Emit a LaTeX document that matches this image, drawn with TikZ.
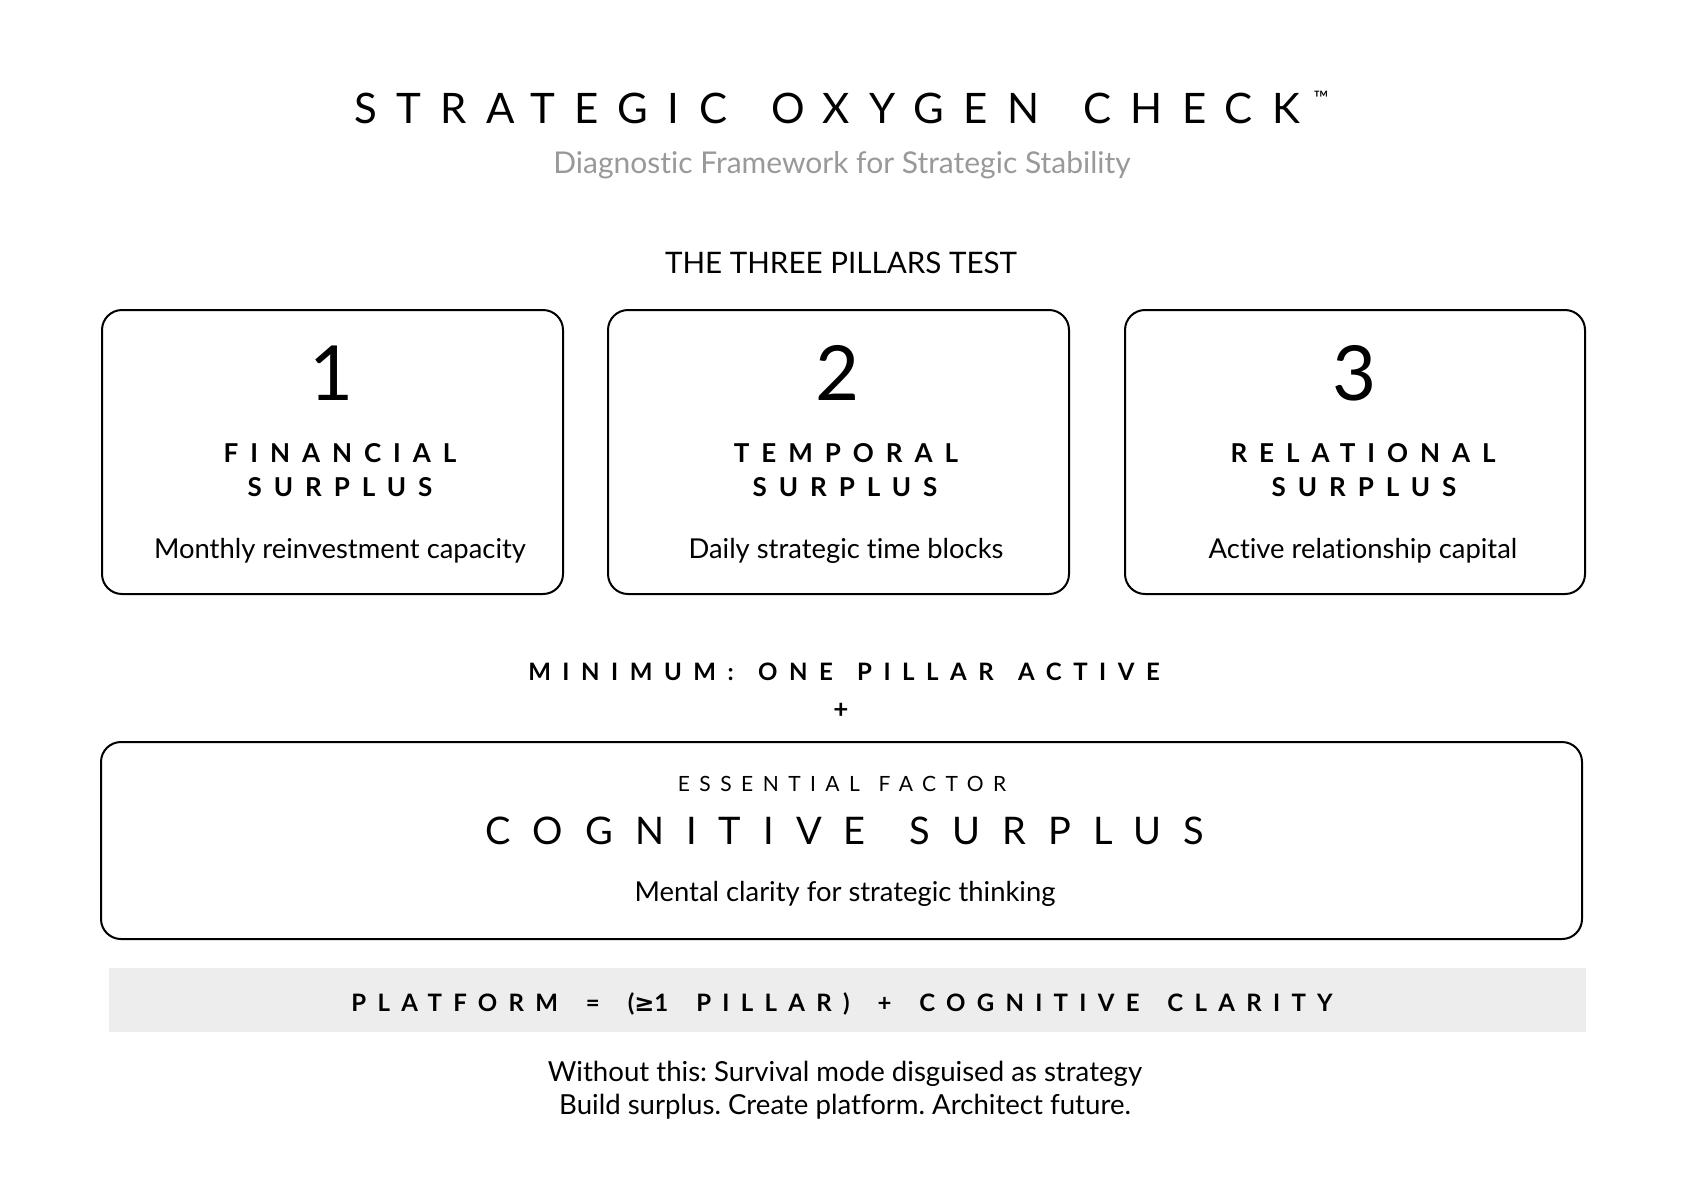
\documentclass[tikz,border=0pt]{standalone}
\usepackage{fontspec}
\setmainfont{Lato}[Ligatures=NoCommon]
\newfontfamily\symf{DejaVu Sans}
\definecolor{subgray}{HTML}{999999}
\definecolor{bandgray}{HTML}{EDEDED}
\newcommand\trk[2]{\addfontfeatures{LetterSpace=#1}#2}
\newcommand\wg[1]{\hspace*{#1}}
\frenchspacing
\begin{document}
\begin{tikzpicture}[x=0.5pt,y=-0.5pt,
  lbl/.style={inner sep=0pt,outer sep=0pt,anchor=center,text=black},
  basel/.style={inner sep=0pt,outer sep=0pt,anchor=base,text=black},
  pillar/.style={draw=black,line width=1pt,rounded corners=10pt},
  band/.style={fill=bandgray,draw=none},
  fsz/.style={font=\fontsize{#1}{#1}\selectfont},
  bsz/.style={font=\bfseries\fontsize{#1}{#1}\selectfont}]
\useasboundingbox[fill=white] (0,0) rectangle (1684,1190);

% title
\node[lbl,fsz=21] (title) at (827,108) {\trk{46}{STRATEGIC \wg{7pt}OXYGEN \wg{7pt}CHECK}};
\node[lbl,fsz=10] (tm) at (1321,98) {™};
\node[basel,fsz=15,text=subgray] (sub) at (842,173) {Diagnostic Framework for Strategic Stability};
\node[lbl,fsz=14.8] (three) at (841,263) {THE THREE PILLARS TEST};

% pillar boxes
\draw[pillar] (102,310) rectangle (563,594);
\draw[pillar] (608,310) rectangle (1069,594);
\draw[pillar] (1125,310) rectangle (1585,594);
\node[lbl,fsz=38] (n1) at (332,373) {1};
\node[lbl,fsz=38] (n2) at (838,373) {2};
\node[lbl,fsz=38] (n3) at (1355,373) {3};
\node[lbl,bsz=13] (p1a) at (340,453) {\trk{46}{FINANCIAL}};
\node[lbl,bsz=13] (p1b) at (340,487) {\trk{46}{SURPLUS}};
\node[lbl,bsz=13] (p2a) at (846,453) {\trk{46}{TEMPORAL}};
\node[lbl,bsz=13] (p2b) at (845,487) {\trk{46}{SURPLUS}};
\node[lbl,bsz=13] (p3a) at (1363,453) {\trk{46}{RELATIONAL}};
\node[lbl,bsz=13] (p3b) at (1364,487) {\trk{46}{SURPLUS}};
\node[basel,fsz=13.7] (d1) at (340,558) {Monthly reinvestment capacity};
\node[basel,fsz=13.7] (d2) at (846,558) {Daily strategic time blocks};
\node[basel,fsz=13.7] (d3) at (1363,558) {Active relationship capital};

% minimum
\node[lbl,bsz=12] (min) at (844,672) {\trk{48}{MINIMUM: \wg{3.5pt}ONE \wg{3.5pt}PILLAR \wg{3.5pt}ACTIVE}};
\node[lbl,bsz=13] (plus) at (841,711) {+};

% cognitive box
\draw[pillar] (101,742) rectangle (1582,939);
\node[lbl,fsz=10.5] (ess) at (842,784) {\trk{45}{ESSENTIAL \wg{2pt}FACTOR}};
\node[lbl,fsz=19] (cog) at (845,831) {\trk{58}{COGNITIVE \wg{6pt}SURPLUS}};
\node[basel,fsz=13.7] (ment) at (845,901) {Mental clarity for strategic thinking};

% platform band
\fill[band] (109,968) rectangle (1586,1032);
\node[lbl,bsz=12] (plat) at (842,1004) {\trk{47}{PLATFORM \wg{5.4pt}= \wg{5.4pt}({\symf\addfontfeatures{LetterSpace=47}≥}1 \wg{5.4pt}PILLAR) \wg{5.4pt}+ \wg{5.4pt}COGNITIVE \wg{5.4pt}CLARITY}};

% footer
\node[basel,fsz=13.8] (f1) at (845,1081) {Without this: Survival mode disguised as strategy};
\node[basel,fsz=13.8] (f2) at (845,1114) {Build surplus. Create platform. Architect future.};
\end{tikzpicture}
\end{document}
